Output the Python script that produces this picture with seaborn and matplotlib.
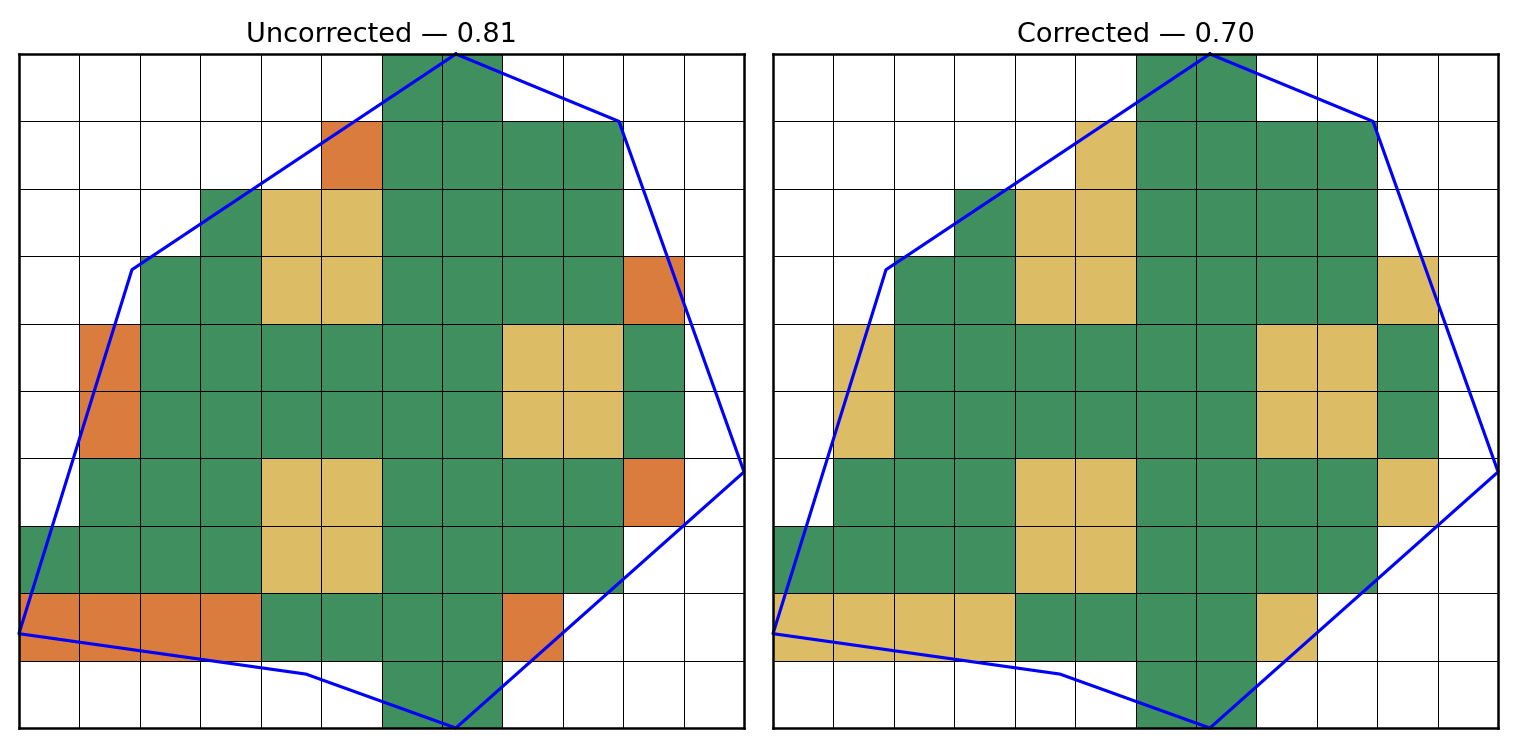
import numpy as np
import pandas as pd
import seaborn as sns
import matplotlib
matplotlib.use("Agg")
import matplotlib.pyplot as plt
from matplotlib.colors import ListedColormap

# cell codes: 0 = empty, 1 = match, 2 = partial, 3 = error
uncorrected = [
    [0, 0, 0, 0, 0, 0, 1, 1, 0, 0, 0, 0],
    [0, 0, 0, 0, 0, 3, 1, 1, 1, 1, 0, 0],
    [0, 0, 0, 1, 2, 2, 1, 1, 1, 1, 0, 0],
    [0, 0, 1, 1, 2, 2, 1, 1, 1, 1, 3, 0],
    [0, 3, 1, 1, 1, 1, 1, 1, 2, 2, 1, 0],
    [0, 3, 1, 1, 1, 1, 1, 1, 2, 2, 1, 0],
    [0, 1, 1, 1, 2, 2, 1, 1, 1, 1, 3, 0],
    [1, 1, 1, 1, 2, 2, 1, 1, 1, 1, 0, 0],
    [3, 3, 3, 3, 1, 1, 1, 1, 3, 0, 0, 0],
    [0, 0, 0, 0, 0, 0, 1, 1, 0, 0, 0, 0],
]
corrected = [
    [0, 0, 0, 0, 0, 0, 1, 1, 0, 0, 0, 0],
    [0, 0, 0, 0, 0, 2, 1, 1, 1, 1, 0, 0],
    [0, 0, 0, 1, 2, 2, 1, 1, 1, 1, 0, 0],
    [0, 0, 1, 1, 2, 2, 1, 1, 1, 1, 2, 0],
    [0, 2, 1, 1, 1, 1, 1, 1, 2, 2, 1, 0],
    [0, 2, 1, 1, 1, 1, 1, 1, 2, 2, 1, 0],
    [0, 1, 1, 1, 2, 2, 1, 1, 1, 1, 2, 0],
    [1, 1, 1, 1, 2, 2, 1, 1, 1, 1, 0, 0],
    [2, 2, 2, 2, 1, 1, 1, 1, 2, 0, 0, 0],
    [0, 0, 0, 0, 0, 0, 1, 1, 0, 0, 0, 0],
]
titles = ["Uncorrected — 0.81", "Corrected — 0.70"]

# polygon outline in cell units (x = column, y = row from top)
poly_x = [7.23, 9.93, 12.0, 7.23, 4.75, 0.0, 1.87]
poly_y = [0.0, 1.0, 6.2, 10.0, 9.2, 8.6, 3.2]

cell_colors = ["#ffffff", "#3f8f5f", "#dcbd66", "#d97c3e"]
cmap = ListedColormap(cell_colors)

fig = plt.figure(figsize=(1516 / 150, 748 / 150), dpi=150)
axes = [fig.add_axes([0.0125, 0.0267, 0.4783, 0.9011]),
        fig.add_axes([0.5099, 0.0267, 0.4783, 0.9011])]

for ax, grid, title in zip(axes, [uncorrected, corrected], titles):
    df = pd.DataFrame(grid)
    sns.heatmap(df, ax=ax, cmap=cmap, vmin=-0.5, vmax=3.5, cbar=False,
                linewidths=0.4, linecolor="black",
                xticklabels=False, yticklabels=False, square=False)
    xs = poly_x + poly_x[:1]
    ys = poly_y + poly_y[:1]
    ax.plot(xs, ys, color="blue", lw=1.5, clip_on=False)
    for s in ax.spines.values():
        s.set_visible(True)
        s.set_linewidth(1.2)
        s.set_color("black")
    ax.set_title(title, fontsize=13)
    ax.tick_params(left=False, bottom=False)

fig.savefig("out.png", dpi=150)
